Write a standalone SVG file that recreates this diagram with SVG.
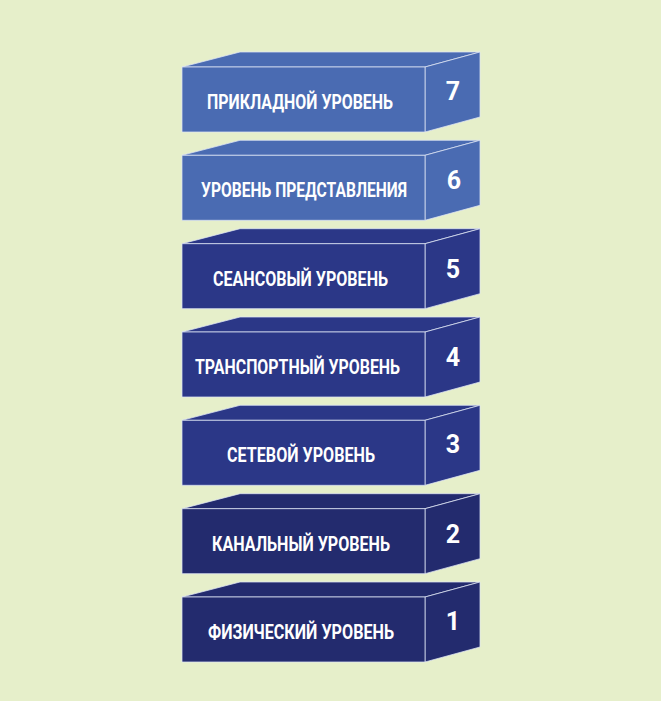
<svg xmlns="http://www.w3.org/2000/svg" width="661" height="701" viewBox="0 0 661 701">
<style>
.edge{stroke:#dfe6f5;stroke-width:1;stroke-opacity:0.75;stroke-linejoin:round}
.lbl{font-family:Roboto,"Liberation Sans",sans-serif;font-weight:700;font-size:20.5px;fill:#ffffff;text-anchor:middle}
.num{font-family:Roboto,"Liberation Sans",sans-serif;font-weight:700;font-size:25px;fill:#ffffff;text-anchor:middle}
.c1{fill:#4a6bb2}
.c2{fill:#2b3787}
.c3{fill:#232b6e}
</style>
<defs>
<g id="box">
<polygon class="edge" points="182,0 240,-15 480,-15 425,0"/>
<polygon class="edge" points="425,0 480,-15 480,50 425,65"/>
<rect class="edge" x="182" y="0" width="243" height="65"/>
</g>
</defs>
<rect x="0" y="0" width="661" height="701" fill="#e6efca"/>
<g id="layer7" class="c1" transform="translate(0,67)">
<use href="#box"/>
<text class="lbl" transform="translate(300,42) scale(0.78,1)" textLength="238.5" lengthAdjust="spacingAndGlyphs">ПРИКЛАДНОЙ УРОВЕНЬ</text>
<text class="num" x="453" y="33">7</text>
</g>
<g id="layer6" class="c1" transform="translate(0,155.3)">
<use href="#box"/>
<text class="lbl" transform="translate(304,42) scale(0.78,1)" textLength="264" lengthAdjust="spacingAndGlyphs">УРОВЕНЬ ПРЕДСТАВЛЕНИЯ</text>
<text class="num" x="454" y="34">6</text>
</g>
<g id="layer5" class="c2" transform="translate(0,243.7)">
<use href="#box"/>
<text class="lbl" transform="translate(300.5,42) scale(0.78,1)" textLength="224.4" lengthAdjust="spacingAndGlyphs">СЕАНСОВЫЙ УРОВЕНЬ</text>
<text class="num" x="453" y="34">5</text>
</g>
<g id="layer4" class="c2" transform="translate(0,332)">
<use href="#box"/>
<text class="lbl" transform="translate(297.5,42) scale(0.78,1)" textLength="262.8" lengthAdjust="spacingAndGlyphs">ТРАНСПОРТНЫЙ УРОВЕНЬ</text>
<text class="num" x="453" y="34">4</text>
</g>
<g id="layer3" class="c2" transform="translate(0,420.3)">
<use href="#box"/>
<text class="lbl" transform="translate(301,42) scale(0.78,1)" textLength="189.7" lengthAdjust="spacingAndGlyphs">СЕТЕВОЙ УРОВЕНЬ</text>
<text class="num" x="453" y="33">3</text>
</g>
<g id="layer2" class="c3" transform="translate(0,508.7)">
<use href="#box"/>
<text class="lbl" transform="translate(301,42) scale(0.78,1)" textLength="228.2" lengthAdjust="spacingAndGlyphs">КАНАЛЬНЫЙ УРОВЕНЬ</text>
<text class="num" x="453" y="34">2</text>
</g>
<g id="layer1" class="c3" transform="translate(0,597)">
<use href="#box"/>
<text class="lbl" transform="translate(301,42) scale(0.78,1)" textLength="238.5" lengthAdjust="spacingAndGlyphs">ФИЗИЧЕСКИЙ УРОВЕНЬ</text>
<text class="num" x="453" y="33">1</text>
</g>
</svg>
